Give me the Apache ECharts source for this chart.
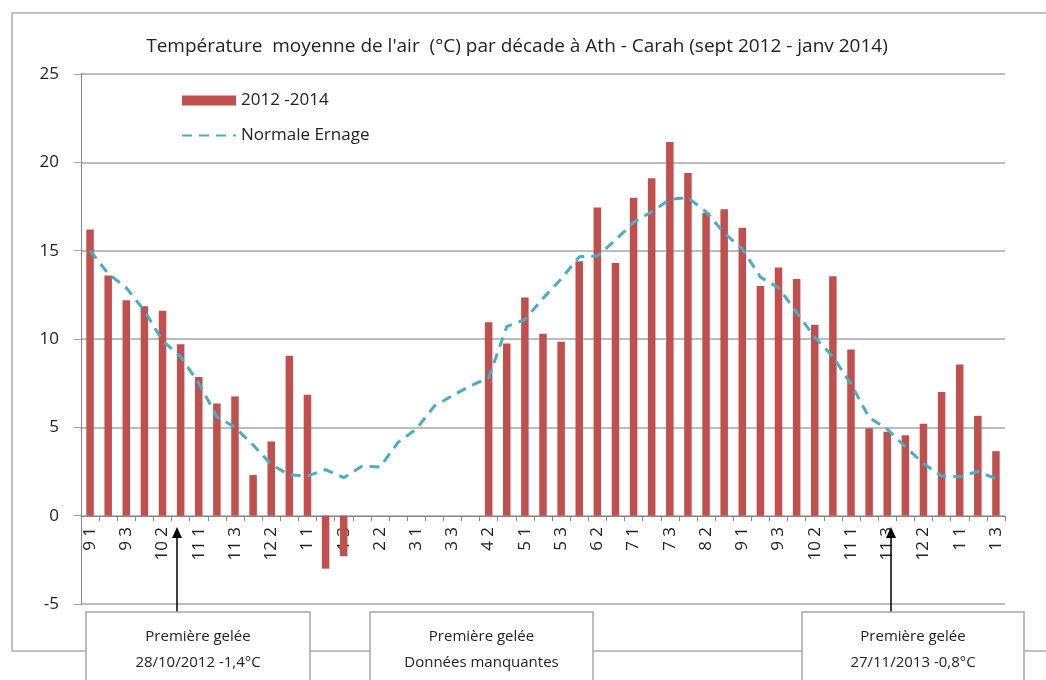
<!DOCTYPE html>
<html>
<head>
<meta charset="utf-8">
<script src="https://cdn.jsdelivr.net/npm/echarts@6/dist/echarts.min.js"></script>
<style>
  html, body { margin: 0; padding: 0; background: #fff; }
  #main { width: 1046px; height: 680px; }
</style>
</head>
<body>
<div id="main"></div>
<script>
var myChart = echarts.init(document.getElementById('main'));

// décades : "mois n°décade", sept 2012 -> janv 2014
var decades = ['9 1','9 2','9 3','10 1','10 2','10 3','11 1','11 2','11 3','12 1','12 2','12 3',
  '1 1','1 2','1 3','2 1','2 2','2 3','3 1','3 2','3 3','4 1','4 2','4 3','5 1','5 2','5 3',
  '6 1','6 2','6 3','7 1','7 2','7 3','8 1','8 2','8 3','9 1','9 2','9 3','10 1','10 2','10 3',
  '11 1','11 2','11 3','12 1','12 2','12 3','1 1','1 2','1 3'];

// 2012-2014 mesuré (null = données manquantes)
var mesure = [16.2, 13.6, 12.2, 11.85, 11.6, 9.7, 7.85, 6.35, 6.75, 2.3, 4.2, 9.05, 6.85, -3.0, -2.3,
  null, null, null, null, null, null, null,
  10.95, 9.75, 12.35, 10.3, 9.85, 14.4, 17.45, 14.3, 18.0, 19.1, 21.15, 19.4, 17.15, 17.35, 16.3,
  13.0, 14.05, 13.4, 10.8, 13.55, 9.4, 4.95, 4.75, 4.55, 5.2, 7.0, 8.55, 5.65, 3.65];

// normale Ernage
var normale = [15.0, 13.7, 12.9, 11.6, 9.9, 9.0, 7.5, 5.6, 5.0, 4.0, 2.9, 2.3, 2.25, 2.6, 2.15,
  2.8, 2.75, 4.15, 4.9, 6.2, 6.8, 7.35, 7.8, 10.7, 11.1, 12.3, 13.4, 14.65, 14.7, 15.6, 16.6,
  17.2, 17.9, 18.0, 17.2, 16.0, 15.1, 13.5, 12.9, 11.5, 10.1, 9.0, 7.45, 5.55, 4.9, 3.9, 2.95,
  2.25, 2.2, 2.5, 2.1];

var yTicks = [-5, 0, 5, 10, 15, 20, 25];

var font = 'Open Sans';
var gris = '#a6a6a6';

function fleche(x) {
  return [
    { type: 'line', shape: { x1: x, y1: 612, x2: x, y2: 536 }, style: { stroke: '#000', lineWidth: 1.5 }, z: 10 },
    { type: 'polygon', shape: { points: [[x, 527], [x - 5, 538], [x + 5, 538]] }, style: { fill: '#000' }, z: 10 }
  ];
}

function boite(x, w, l1, l2) {
  return [
    { type: 'rect', shape: { x: x, y: 612, width: w, height: 90 }, style: { fill: '#fff', stroke: gris, lineWidth: 1.5 }, z: 10 },
    { type: 'text', x: x + w / 2, y: 637, style: { text: l1, fill: '#222', font: '15px "' + font + '"', align: 'center', verticalAlign: 'middle' }, z: 11 },
    { type: 'text', x: x + w / 2, y: 663, style: { text: l2, fill: '#222', font: '15px "' + font + '"', align: 'center', verticalAlign: 'middle' }, z: 11 }
  ];
}

var option = {
  animation: false,
  textStyle: { fontFamily: font },
  title: {
    text: "Température  moyenne de l'air  (°C) par décade à Ath - Carah (sept 2012 - janv 2014)",
    left: 512,
    textAlign: 'center',
    top: 32,
    textStyle: { fontSize: 19, fontWeight: 'normal', color: '#222', fontFamily: font }
  },
  legend: {
    orient: 'vertical',
    left: 176,
    top: 87,
    itemWidth: 54,
    itemHeight: 10,
    itemGap: 18,
    textStyle: { fontSize: 17, color: '#222' },
    data: [
      { name: '2012 -2014', icon: 'rect' },
      { name: 'Normale Ernage', itemStyle: { opacity: 0 } }
    ]
  },
  grid: { left: 81, right: 41, top: 74, bottom: 76 },
  xAxis: {
    type: 'category',
    data: decades,
    position: 'bottom',
    offset: -88,
    axisLine: { onZero: false, lineStyle: { color: '#868686', width: 1 } },
    axisTick: { show: true, interval: 0, length: 5, lineStyle: { color: '#868686' } },
    axisLabel: { interval: 1, rotate: 90, fontSize: 17, color: '#222', margin: 11 }
  },
  yAxis: {
    type: 'value',
    min: yTicks[0],
    max: yTicks[yTicks.length - 1],
    interval: 5,
    axisLine: { show: true, lineStyle: { color: '#868686' } },
    axisTick: { show: true, length: 7, lineStyle: { color: gris } },
    axisLabel: { fontSize: 17, color: '#222', margin: 22 },
    splitLine: { lineStyle: { color: gris, width: 1.5 } }
  },
  series: [
    {
      name: '2012 -2014',
      type: 'bar',
      data: mesure,
      barWidth: 7.5,
      itemStyle: { color: '#c0504d' }
    },
    {
      name: 'Normale Ernage',
      type: 'line',
      data: normale,
      symbol: 'none',
      z: 3,
      lineStyle: { color: '#4bacc6', width: 3, type: [10, 7] },
      itemStyle: { color: '#4bacc6' }
    }
  ],
  graphic: [
    { type: 'rect', shape: { x: 12, y: 13, width: 1100, height: 638 }, style: { fill: 'none', stroke: '#c0c0c0', lineWidth: 2 }, z: -1, silent: true }
  ]
    .concat(fleche(177))
    .concat(fleche(891))
    .concat(boite(86, 224, 'Première gelée', '28/10/2012 -1,4°C'))
    .concat(boite(370, 223, 'Première gelée', 'Données manquantes'))
    .concat(boite(802, 222, 'Première gelée', '27/11/2013 -0,8°C'))
};

myChart.setOption(option);
</script>
</body>
</html>
